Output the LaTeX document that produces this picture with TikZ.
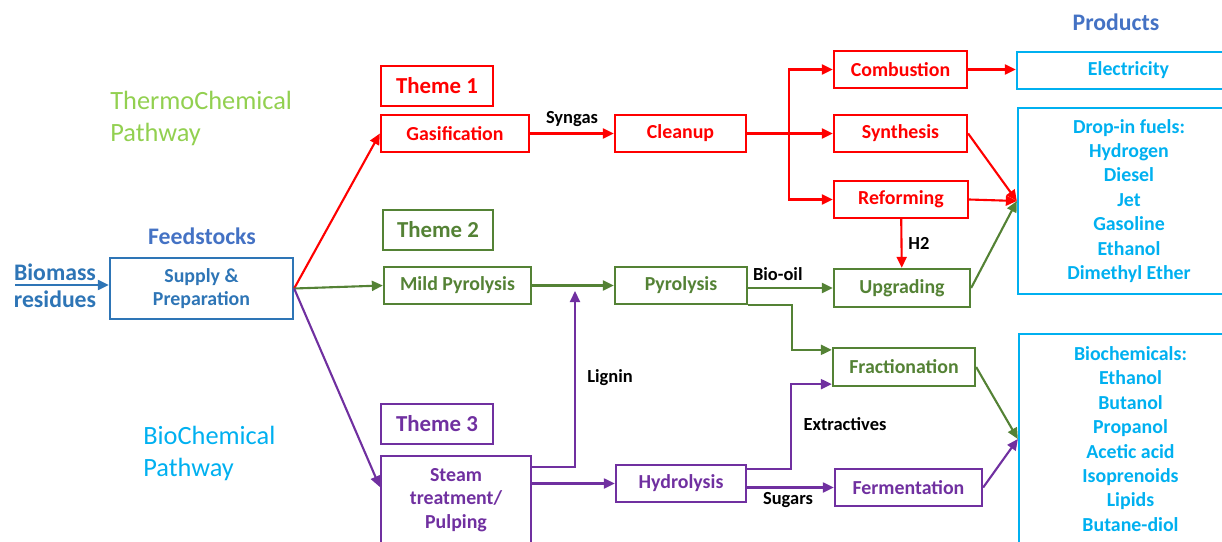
\documentclass[tikz,border=0pt]{standalone}
\usepackage{fontspec}
\setmainfont{Carlito}
\usetikzlibrary{arrows.meta,positioning}
\definecolor{fire}{RGB}{255,0,0}
\definecolor{moss}{RGB}{84,130,53}
\definecolor{plum}{RGB}{112,48,160}
\definecolor{sky}{RGB}{0,176,240}
\definecolor{steel}{RGB}{46,117,182}
\definecolor{royal}{RGB}{68,114,196}
\definecolor{sprout}{RGB}{146,208,80}
\tikzset{
  >={Triangle[length=2.2mm,width=2mm]},
  box/.style={draw=#1,line width=1.3pt,text=#1,align=center,inner sep=1pt,
    font=\fontsize{11.3}{13.5}\selectfont\bfseries},
  box/.default=fire,
  theme/.style={box=#1,font=\fontsize{13}{15}\selectfont\bfseries},
  theme/.default=fire,
  prod/.style={box=sky,font=\fontsize{11.3}{13.9}\selectfont\bfseries},
  flow/.style={->,line width=1.2pt,draw=#1},
  flow/.default=fire,
  tag/.style={font=\fontsize{10.5}{12}\selectfont\bfseries,text=black},
  head/.style={font=\fontsize{13.5}{15.4}\selectfont\bfseries,text=#1,align=center},
  head/.default=royal,
  way/.style={font=\fontsize{15}{18.2}\selectfont,text=#1,align=left,anchor=west,inner sep=0pt},
}
\begin{document}
\begin{tikzpicture}[x=0.2mm,y=-0.2mm]
  \useasboundingbox (0,0) rectangle (1222,542);
  \clip (0,0) rectangle (1222,542);

  % titles
  \node[way=sprout] (thermo) at (110,118) {ThermoChemical\\Pathway};
  \node[way=sky] (biochm) at (143,453) {BioChemical\\Pathway};
  \node[head] (feed) at (202,236) {Feedstocks};
  \node[head] (prodhead) at (1116,22) {Products};
  \node[head=steel] (biomass) at (55,286) {Biomass\\residues};

  % feedstock
  \node[box=steel,minimum width=36.6mm,minimum height=12.2mm] (supply) at (201.5,288.5) {Supply \&\\Preparation};

  % theme 1
  \node[theme=fire,minimum width=22.4mm,minimum height=8mm] (theme1) at (437,86) {Theme 1};
  \node[box=fire,minimum width=29.6mm,minimum height=7.4mm] (gasif) at (455,133.5) {Gasification};
  \node[box=fire,minimum width=26.2mm,minimum height=7.4mm] (cleanup) at (680.5,133.5) {Cleanup};
  \node[box=fire,minimum width=26.6mm,minimum height=7.4mm] (combust) at (900.5,69.5) {Combustion};
  \node[box=fire,minimum width=26.6mm,minimum height=7.4mm] (synth) at (900.5,133.5) {Synthesis};
  \node[box=fire,minimum width=26.8mm,minimum height=7.4mm] (reform) at (901,199.5) {Reforming};

  % theme 2
  \node[theme=moss,minimum width=22mm,minimum height=8mm] (theme2) at (438,230) {Theme 2};
  \node[box=moss,minimum width=29.4mm,minimum height=7.4mm] (mildpyr) at (457.5,285.5) {Mild Pyrolysis};
  \node[box=moss,minimum width=26.4mm,minimum height=7.4mm] (pyrol) at (681,285.5) {Pyrolysis};
  \node[box=moss,minimum width=27.2mm,minimum height=7.6mm] (upgrad) at (902,288) {Upgrading};
  \node[box=moss,minimum width=28.4mm,minimum height=7.6mm] (frac) at (904,367) {Fractionation};

  % theme 3
  \node[theme=plum,minimum width=22.4mm,minimum height=8mm] (theme3) at (437,424) {Theme 3};
  \node[box=plum,minimum width=30mm,minimum height=17.6mm] (steam) at (456,500) {Steam\\treatment/\\Pulping};
  \node[box=plum,minimum width=26mm,minimum height=7.4mm] (hydro) at (681,483.5) {Hydrolysis};
  \node[box=plum,minimum width=29.4mm,minimum height=7.4mm] (ferment) at (908.5,487.5) {Fermentation};

  % products
  \node[prod,minimum width=44.6mm,minimum height=7.4mm] (elec) at (1128.5,70.5) {Electricity};
  \node[prod,minimum width=44.4mm,minimum height=37.2mm] (dropin) at (1129,201) {Drop-in fuels:\\Hydrogen\\Diesel\\Jet\\Gasoline\\Ethanol\\Dimethyl Ether};
  \node[prod,minimum width=44.6mm,minimum height=42mm] (biochem) at (1130.5,439) {Biochemicals:\\Ethanol\\Butanol\\Propanol\\Acetic acid\\Isoprenoids\\Lipids\\Butane-diol};

  % stream labels
  \node[tag] (lignin) at (610,378) {Lignin};
  \node[tag] (extr) at (845,424) {Extractives};
  \node[tag] (sugars) at (788,500) {Sugars};

  \coordinate (bstart) at (15,285);
  \coordinate (fork) at (789,133.5);
  \coordinate (lig) at (575,285.5);

  % connectors
  \draw[flow=steel] (bstart) -- (bstart -| supply.west);
  \draw[flow=fire] (supply.east) -- (gasif.west);
  \draw[flow=moss] (supply.east) -- (mildpyr.west);
  \draw[flow=plum] (supply.east) -- ([yshift=2.6mm]steam.west);

  \draw[flow=fire] (gasif) -- (cleanup) node[midway,above,tag] {Syngas};
  \draw[flow=fire] (cleanup) -- (synth);
  \draw[flow=fire] (fork) |- (combust);
  \draw[flow=fire] (fork) |- (reform);
  \draw[flow=fire] (combust.east) -- (combust.east -| elec.west);
  \draw[flow=fire] (synth.east) -- (dropin.west);
  \draw[flow=fire] (reform.east) -- (dropin.west);
  \draw[flow=fire] (reform) -- (upgrad) node[midway,right,tag] {H2};

  \draw[flow=moss] (mildpyr) -- (pyrol);
  \draw[flow=moss] (pyrol.east |- upgrad.west) -- (upgrad.west) node[pos=0.35,above,tag] {Bio-oil};
  \draw[flow=moss] (pyrol.south east) -- ++(44,0) |- ([yshift=-0.6mm]frac.north west);
  \draw[flow=moss] (upgrad.east) -- (dropin.west);
  \draw[flow=moss] (frac.east) -- (biochem.west);

  \draw[flow=plum] ([yshift=-2.4mm]steam.north east) -| ([yshift=-1.1mm]lig);
  \draw[flow=plum] (steam.east |- hydro.west) -- (hydro.west);
  \draw[flow=plum] ([yshift=2.9mm]hydro.east) -- ++(44,0) |- ([yshift=0.6mm]frac.south west);
  \draw[flow=plum] (hydro.east |- ferment.west) -- (ferment.west);
  \draw[flow=plum] (ferment.east) -- (biochem.west);
\end{tikzpicture}
\end{document}
